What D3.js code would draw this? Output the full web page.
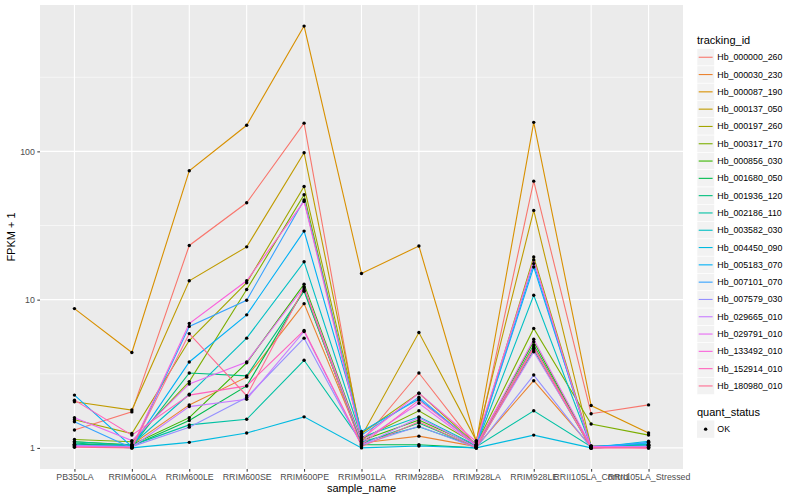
<!DOCTYPE html>
<html>
<head>
<meta charset="utf-8">
<script src="https://cdn.jsdelivr.net/npm/d3@7"></script>
<style>
  body { margin: 0; background: #fff; }
  text { font-family: "Liberation Sans", Arial, Helvetica, sans-serif; }
</style>
</head>
<body>
<div id="graph"></div>
<script>
// ggplot-like line chart, log y axis, one line per tracking_id

var width = 800,
    height = 500,
    margin = {"top": 5, "right": 117, "bottom": 31, "left": 40};

var samples = ["PB350LA", "RRIM600LA", "RRIM600LE", "RRIM600SE", "RRIM600PE",
               "RRIM901LA", "RRIM928BA", "RRIM928LA", "RRIM928LE",
               "RRII105LA_Control", "RRII105LA_Stressed"];

var ids = ["Hb_000000_260", "Hb_000030_230", "Hb_000087_190", "Hb_000137_050",
           "Hb_000197_260", "Hb_000317_170", "Hb_000856_030", "Hb_001680_050",
           "Hb_001936_120", "Hb_002186_110", "Hb_003582_030", "Hb_004450_090",
           "Hb_005183_070", "Hb_007101_070", "Hb_007579_030", "Hb_029665_010",
           "Hb_029791_010", "Hb_133492_010", "Hb_152914_010", "Hb_180980_010"];

var colors = ["#F8766D", "#EA8331", "#D89000", "#C09B00", "#A3A500", "#7CAE00",
              "#39B600", "#00BB4E", "#00BF7D", "#00C1A3", "#00BFC4", "#00BAE0",
              "#00B0F6", "#35A2FF", "#9590FF", "#C77CFF", "#E76BF3", "#FA62DB",
              "#FF62BC", "#FF6C91"];

// FPKM + 1, one row per tracking_id, one value per sample
var fpkm = [
  [1.32, 1.75, 23.2, 45,   155, 1.10, 3.2,  1.02, 63,   1.70, 1.95],
  [1.05, 1.05, 1.95, 3.0,  9.4, 1.08, 1.2,  1.02, 2.84, 1.02, 1.03],
  [8.7,  4.4,  74,   150,  700, 15,   23,   1.10, 157,  1.93, 1.26],
  [2.05, 1.80, 13.4, 22.7, 98,  1.20, 6.0,  1.12, 40,   1.03, 1.05],
  [1.55, 1.25, 5.3,  13.0, 58,  1.25, 2.34, 1.05, 19.4, 1.02, 1.04],
  [1.14, 1.10, 2.8,  11.7, 51,  1.15, 1.78, 1.06, 6.4,  1.45, 1.22],
  [1.10, 1.05, 1.6,  3.75, 12.7, 1.12, 1.54, 1.03, 5.2, 1.01, 1.05],
  [1.06, 1.03, 1.53, 2.62, 11.6, 1.05, 1.05, 1.00, 4.94, 1.00, 1.04],
  [1.08, 1.02, 3.2,  3.06, 11.4, 1.07, 1.47, 1.01, 4.57, 1.00, 1.03],
  [1.10, 1.04, 1.43, 1.56, 3.9, 1.10, 1.39, 1.02, 1.78, 1.02, 1.04],
  [1.03, 1.05, 2.3,  5.5,  18,  1.18, 1.62, 1.04, 10.7, 1.02, 1.06],
  [1.05, 1.00, 1.09, 1.26, 1.62, 1.00, 1.03, 1.00, 1.22, 1.00, 1.11],
  [2.27, 1.02, 3.8,  7.9,  29,  1.29, 2.14, 1.05, 16.6, 1.02, 1.08],
  [1.50, 1.00, 6.6,  9.9,  47,  1.22, 2.2,  1.04, 17.5, 1.00, 1.09],
  [1.04, 1.02, 1.38, 2.19, 5.5, 1.05, 1.4,  1.00, 3.1,  1.00, 1.03],
  [1.03, 1.01, 1.9,  2.13, 6.1, 1.04, 1.6,  1.01, 4.45, 1.02, 1.02],
  [1.60, 1.12, 2.7,  3.8,  12.2, 1.10, 2.0, 1.03, 5.4,  1.03, 1.00],
  [1.02, 1.01, 6.9,  13.4, 46,  1.15, 2.34, 1.10, 18.5, 1.00, 1.01],
  [2.10, 1.22, 2.27, 2.62, 6.2, 1.05, 2.1,  1.05, 4.8,  1.01, 1.00],
  [1.01, 1.00, 5.9,  2.25, 12.0, 1.02, 1.5, 1.00, 4.7,  1.00, 1.00]
];

var yBreaks = [1, 10, 100];
var yMinor = [Math.pow(10, 0.5), Math.pow(10, 1.5), Math.pow(10, 2.5)];
var statusLabels = ["OK"];

var panel_w = width - margin.left - margin.right,
    panel_h = height - margin.top - margin.bottom;

var svg = d3.select("#graph").append("svg")
    .attr("width", width)
    .attr("height", height);

var g = svg.append("g")
    .attr("transform", "translate(" + margin.left + "," + margin.top + ")");

// scales, with ggplot style expansion
var x = d3.scalePoint().domain(samples).range([0, panel_w]).padding(0.6);

var allVals = d3.merge(fpkm);
var lo = Math.log10(d3.min(allVals)), hi = Math.log10(d3.max(allVals));
var pad = (hi - lo) * 0.05;
var y = d3.scaleLog()
    .domain([Math.pow(10, lo - pad), Math.pow(10, hi + pad)])
    .range([panel_h, 0]);

// panel + grid
g.append("rect").attr("width", panel_w).attr("height", panel_h).attr("fill", "#EBEBEB");

g.selectAll(".minor").data(yMinor).enter().append("line")
    .attr("x1", 0).attr("x2", panel_w)
    .attr("y1", d => y(d)).attr("y2", d => y(d))
    .attr("stroke", "#fff").attr("stroke-width", 0.55);

g.selectAll(".hmajor").data(yBreaks).enter().append("line")
    .attr("x1", 0).attr("x2", panel_w)
    .attr("y1", d => y(d)).attr("y2", d => y(d))
    .attr("stroke", "#fff").attr("stroke-width", 1.1);

g.selectAll(".vmajor").data(samples).enter().append("line")
    .attr("x1", d => x(d)).attr("x2", d => x(d))
    .attr("y1", 0).attr("y2", panel_h)
    .attr("stroke", "#fff").attr("stroke-width", 1.1);

// lines
var line = d3.line()
    .x((d, i) => x(samples[i]))
    .y(d => y(d));

g.selectAll(".series").data(fpkm).enter().append("path")
    .attr("d", d => line(d))
    .attr("fill", "none")
    .attr("stroke", (d, i) => colors[i])
    .attr("stroke-width", 1.1);

// points
fpkm.forEach(function(row) {
  g.selectAll(null).data(row).enter().append("circle")
      .attr("cx", (d, i) => x(samples[i]))
      .attr("cy", d => y(d))
      .attr("r", 1.7)
      .attr("fill", "#000");
});

// axes
var xAxis = g.append("g")
    .attr("transform", "translate(0," + panel_h + ")")
    .call(d3.axisBottom(x).tickSizeInner(2.7).tickSizeOuter(0).tickPadding(2.5));
var yAxis = g.append("g")
    .call(d3.axisLeft(y).tickValues(yBreaks).tickFormat(d3.format("d"))
          .tickSizeInner(2.7).tickSizeOuter(0).tickPadding(2.5));

[xAxis, yAxis].forEach(function(a) {
  a.select(".domain").remove();
  a.selectAll(".tick line").attr("stroke", "#333333");
  a.selectAll(".tick text").attr("fill", "#4D4D4D")
      .style("font-size", "8.8px")
      .style("font-family", "'Liberation Sans', Arial, sans-serif");
});

svg.append("text")
    .attr("x", margin.left + panel_w / 2)
    .attr("y", 492)
    .attr("text-anchor", "middle")
    .style("font-size", "11px")
    .text("sample_name");

svg.append("text")
    .attr("transform", "translate(15," + (margin.top + panel_h / 2) + ") rotate(-90)")
    .attr("text-anchor", "middle")
    .style("font-size", "11px")
    .text("FPKM + 1");

// legend: tracking_id
var lx = 697, ly = 48.6, key = 17.3;
var legend = svg.append("g");

legend.append("text")
    .attr("x", lx).attr("y", 44)
    .style("font-size", "11px")
    .text("tracking_id");

var items = legend.selectAll(".item").data(ids).enter().append("g")
    .attr("transform", (d, i) => "translate(" + lx + "," + (ly + i * key) + ")");

items.append("rect")
    .attr("width", key).attr("height", key)
    .attr("fill", "#F2F2F2").attr("stroke", "#fff").attr("stroke-width", 0.6);

items.append("line")
    .attr("x1", 1.7).attr("x2", key - 1.7)
    .attr("y1", key / 2).attr("y2", key / 2)
    .attr("stroke", (d, i) => colors[i])
    .attr("stroke-width", 1.1);

items.append("text")
    .attr("x", key + 3).attr("y", key / 2 + 3)
    .style("font-size", "8.8px")
    .text(d => d);

// legend: quant_status
legend.append("text")
    .attr("x", lx).attr("y", 416)
    .style("font-size", "11px")
    .text("quant_status");

var sItems = legend.selectAll(".sitem").data(statusLabels).enter().append("g")
    .attr("transform", (d, i) => "translate(" + lx + "," + (420.5 + i * key) + ")");

sItems.append("rect")
    .attr("width", key).attr("height", key)
    .attr("fill", "#F2F2F2");

sItems.append("circle")
    .attr("cx", key / 2).attr("cy", key / 2).attr("r", 1.7).attr("fill", "#000");

sItems.append("text")
    .attr("x", key + 3).attr("y", key / 2 + 3)
    .style("font-size", "8.8px")
    .text(d => d);
</script>
</body>
</html>
